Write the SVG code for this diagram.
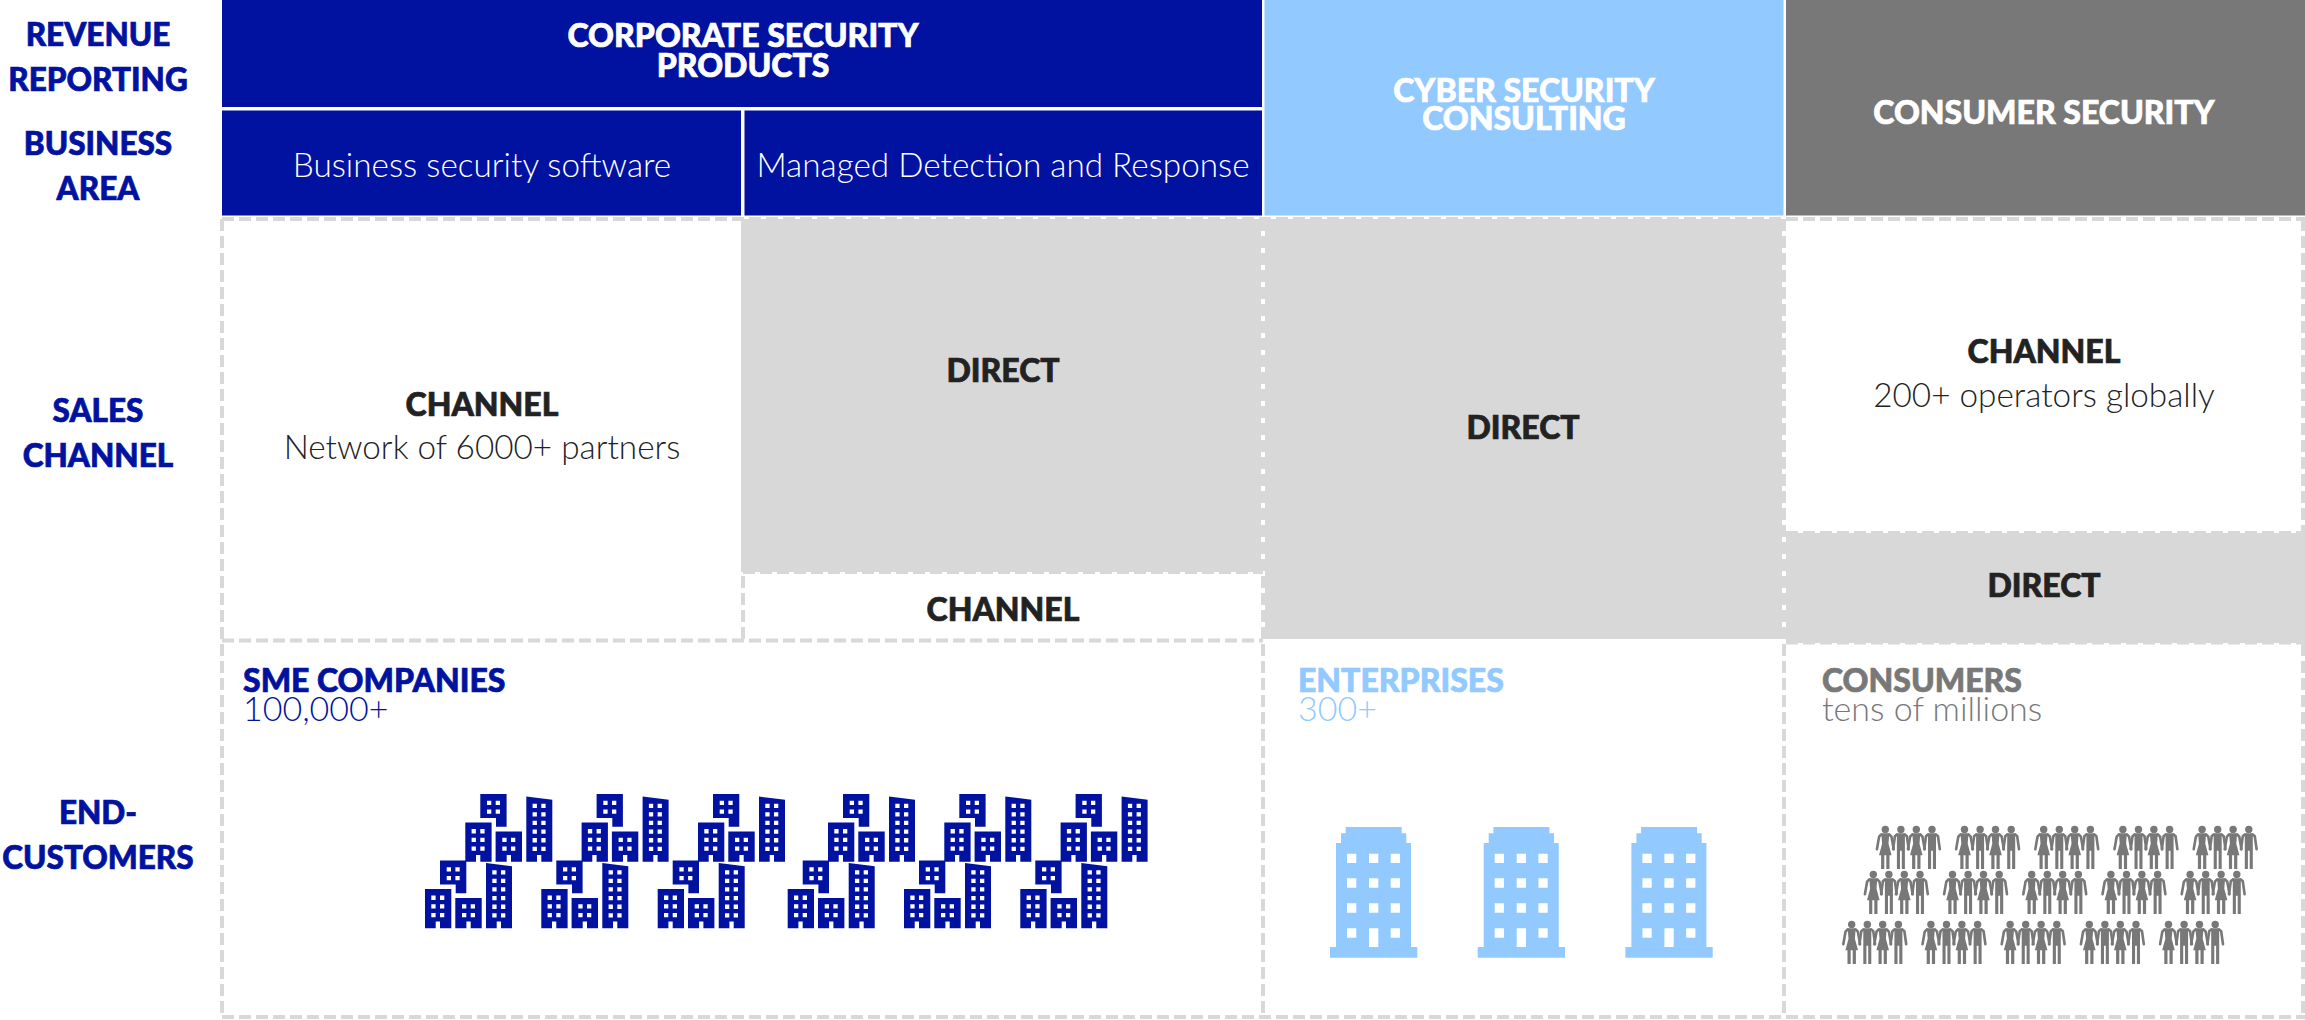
<svg xmlns="http://www.w3.org/2000/svg" width="2305" height="1020" viewBox="0 0 2305 1020">
<style>
text{font-family:"Lato","Liberation Sans",sans-serif}
.h{font-weight:900;font-size:32px;text-anchor:middle;stroke-width:.7px;paint-order:stroke}
.l{font-size:31.500px}
.nv{fill:#00129f;stroke:#00129f}.lb{fill:#92c9ff;stroke:#92c9ff}.gy{fill:#787878;stroke:#787878}.wh{fill:#fff;stroke:#fff}.dk{fill:#222;stroke:#222}
.sub{font-weight:300;font-size:33.300px;stroke:none}
.s2{font-size:34px}
.m{text-anchor:middle}
.st{text-anchor:start}
.cell{fill:#d8d8d8}
.dash{fill:none;stroke:#d8d8d8;stroke-width:4;stroke-dasharray:12 5}
.arm{fill:none;stroke:#787878;stroke-width:2.6;stroke-linecap:round;stroke-linejoin:round}
</style>
<defs>
<path id="b1" fill-rule="evenodd" d="M15 -67.7H41.3V-35H30.7V-43.7H15ZM21.7 -61V-56.7H26V-61ZM30.4 -61V-56.7H34.7V-61ZM21.7 -52.4V-48.1H26V-52.4ZM30.4 -52.4V-48.1H34.7V-52.4Z"/>
<path id="b2" fill-rule="evenodd" d="M0 -39.3H26.3V0H15V-6.7H10.7V0H0ZM6.3 -32.7V-28.4H10.6V-32.7ZM15 -32.7V-28.4H19.3V-32.7ZM6.3 -24V-19.7H10.6V-24ZM15 -24V-19.7H19.3V-24ZM6.3 -15.3V-11H10.6V-15.3ZM15 -15.3V-11H19.3V-15.3Z"/>
<path id="b3" fill-rule="evenodd" d="M30.3 -30.3H56.7V0H45.7V-6.7H41.4V0H30.3ZM37 -24V-19.7H41.3V-24ZM45.7 -24V-19.7H50V-24ZM37 -15.3V-11H41.3V-15.3ZM45.7 -15.3V-11H50V-15.3Z"/>
<path id="b4" fill-rule="evenodd" d="M61 -65.3L87 -62V0H76V-6.7H71.7V0H61ZM67.3 -58V-53.7H71.6V-58ZM76 -58V-53.7H80.3V-58ZM67.3 -49.6V-45.3H71.6V-49.6ZM76 -49.6V-45.3H80.3V-49.6ZM67.3 -41V-36.7H71.6V-41ZM76 -41V-36.7H80.3V-41ZM67.3 -32.3V-28H71.6V-32.3ZM76 -32.3V-28H80.3V-32.3ZM67.3 -23.7V-19.4H71.6V-23.7ZM76 -23.7V-19.4H80.3V-23.7ZM67.3 -15V-10.7H71.6V-15ZM76 -15V-10.7H80.3V-15Z"/>
<g id="sme" fill="#00129f"><use href="#b1"/><use href="#b2"/><use href="#b3"/><use href="#b4"/></g>
<g id="sme2" fill="#00129f"><use href="#sme" x="0" y="0"/><use href="#sme" x="40.3" y="-66.5"/></g>
<path id="ent" fill="#92c9ff" fill-rule="evenodd" d="M15.7 0H71.7V6.3H76.3V16H81V120H87.3V130.7H0V120H6V16H11V6.3H15.7ZM17 26.7V36H26.3V26.7ZM39 26.7V36H48.3V26.7ZM60.7 26.7V36H70V26.7ZM17 51.3V60.7H26.3V51.3ZM39 51.3V60.7H48.3V51.3ZM60.7 51.3V60.7H70V51.3ZM17 76.3V85.7H26.3V76.3ZM39 76.3V85.7H48.3V76.3ZM60.7 76.3V85.7H70V76.3ZM17 101.3V110.7H26.3V101.3ZM39 101.3V120H48.3V101.3ZM60.7 101.3V110.7H70V101.3Z"/>
<g id="f"><circle cx="0" cy="3.7" r="3.7" fill="#787878"/><path fill="#787878" d="M-4 7.5H4L3.2 18L6.3 29.5H4.2V43.3H1V29.5H-1V43.3H-4.2V29.5H-6.3L-3.2 18Z"/><path class="arm" d="M-4 8.8L-6.2 11L-8.4 23.6M4 8.8L6.2 11L8.4 23.6"/></g>
<g id="mn"><circle cx="0" cy="3.7" r="3.7" fill="#787878"/><path fill="#787878" d="M-4 7.5H4V43.3H0.9V25H-0.9V43.3H-4Z"/><path class="arm" d="M-4 8.8L-6 10.5L-7.8 23.6M4 8.8L6 10.5L7.8 23.6"/></g>
<g id="grp"><use href="#f"/><use href="#mn" x="15.6"/><use href="#f" x="31"/><use href="#mn" x="46.7"/></g>
<g id="row"><use href="#grp"/><use href="#grp" x="79.2"/><use href="#grp" x="158.4"/><use href="#grp" x="237.6"/><use href="#grp" x="316.8"/></g>
</defs>
<rect width="2305" height="1020" fill="#fff"/>

<g id="row-labels">
<text class="h l nv" x="98" y="46">REVENUE</text>
<text class="h l nv" x="98" y="91">REPORTING</text>
<text class="h l nv" x="98" y="155">BUSINESS</text>
<text class="h l nv" x="98" y="200">AREA</text>
<text class="h l nv" x="98" y="421.500">SALES</text>
<text class="h l nv" x="98" y="466.500">CHANNEL</text>
<text class="h l nv" x="98" y="824">END-</text>
<text class="h l nv" x="98" y="869">CUSTOMERS</text>
</g>

<g id="rev-corporate"><rect x="222" y="0" width="1040" height="107" fill="#00129f"/>
<text class="h wh" x="743" y="47">CORPORATE SECURITY</text><text class="h wh" x="743" y="77">PRODUCTS</text></g>
<g id="area-bss"><rect x="222" y="110.500" width="519" height="105" fill="#00129f"/>
<text class="sub wh m" x="482" y="177">Business security software</text></g>
<g id="area-mdr"><rect x="744.500" y="110.500" width="517.500" height="105" fill="#00129f"/>
<text class="sub wh m" x="1003" y="177">Managed Detection and Response</text></g>
<g id="rev-cyber"><rect x="1264.500" y="0" width="519" height="215.500" fill="#92c9ff"/>
<text class="h wh" x="1524" y="101.500">CYBER SECURITY</text><text class="h wh" x="1524" y="130">CONSULTING</text></g>
<g id="rev-consumer"><rect x="1786" y="0" width="519" height="215.500" fill="#787878"/>
<text class="h wh" x="2044" y="123.500">CONSUMER SECURITY</text></g>

<g id="cell-fills">
<rect class="cell" x="741" y="219" width="520" height="353"/>
<rect class="cell" x="1265" y="219" width="517" height="420"/>
<rect class="cell" x="1786" y="533" width="519" height="110"/>
</g>

<g id="grid-lines">
<path class="dash" d="M222 219V1018M743 219V640M1263 219V1018M1784 219V1018M2303 219V1018"/>
<path class="dash" d="M222 219H2305M222 640.500H1263M1786 642.500H2305M743 572H1263M1786 533H2305M222 1017H2305"/>
</g>

<g id="ch-bss"><text class="h dk" x="482" y="415.500">CHANNEL</text><text class="sub dk m" x="482" y="459">Network of 6000+ partners</text></g>
<g id="direct-mdr"><text class="h dk" x="1003" y="381.500">DIRECT</text></g>
<g id="ch-mdr"><text class="h dk" x="1003" y="621">CHANNEL</text></g>
<g id="direct-cyber"><text class="h dk" x="1523" y="438.500">DIRECT</text></g>
<g id="ch-consumer"><text class="h dk" x="2044" y="363">CHANNEL</text><text class="sub dk m" x="2044" y="407">200+ operators globally</text></g>
<g id="direct-consumer"><text class="h dk" x="2044" y="597">DIRECT</text></g>

<g id="cust-sme">
<text class="h st nv" x="243" y="692">SME COMPANIES</text>
<text class="sub s2 nv" x="243" y="721">100,000+</text>
<use href="#sme2" x="425" y="928.300"/><use href="#sme2" x="541.300" y="928.300"/><use href="#sme2" x="657.700" y="928.300"/>
<use href="#sme2" x="787.700" y="928.300"/><use href="#sme2" x="904" y="928.300"/><use href="#sme2" x="1020.300" y="928.300"/>
</g>
<g id="cust-ent">
<text class="h st lb" x="1298" y="692">ENTERPRISES</text>
<text class="sub s2 lb" x="1298" y="721">300+</text>
<use href="#ent" x="1330" y="827"/><use href="#ent" x="1477.700" y="827"/><use href="#ent" x="1625.400" y="827"/>
</g>
<g id="cust-consumer">
<text class="h st gy" x="1822" y="692">CONSUMERS</text>
<text class="sub s2 gy" x="1822" y="721">tens of millions</text>
<use href="#row" x="1885.300" y="825.700"/><use href="#row" x="1873.300" y="870.700"/><use href="#row" x="1851.700" y="920.700"/>
</g>
</svg>
